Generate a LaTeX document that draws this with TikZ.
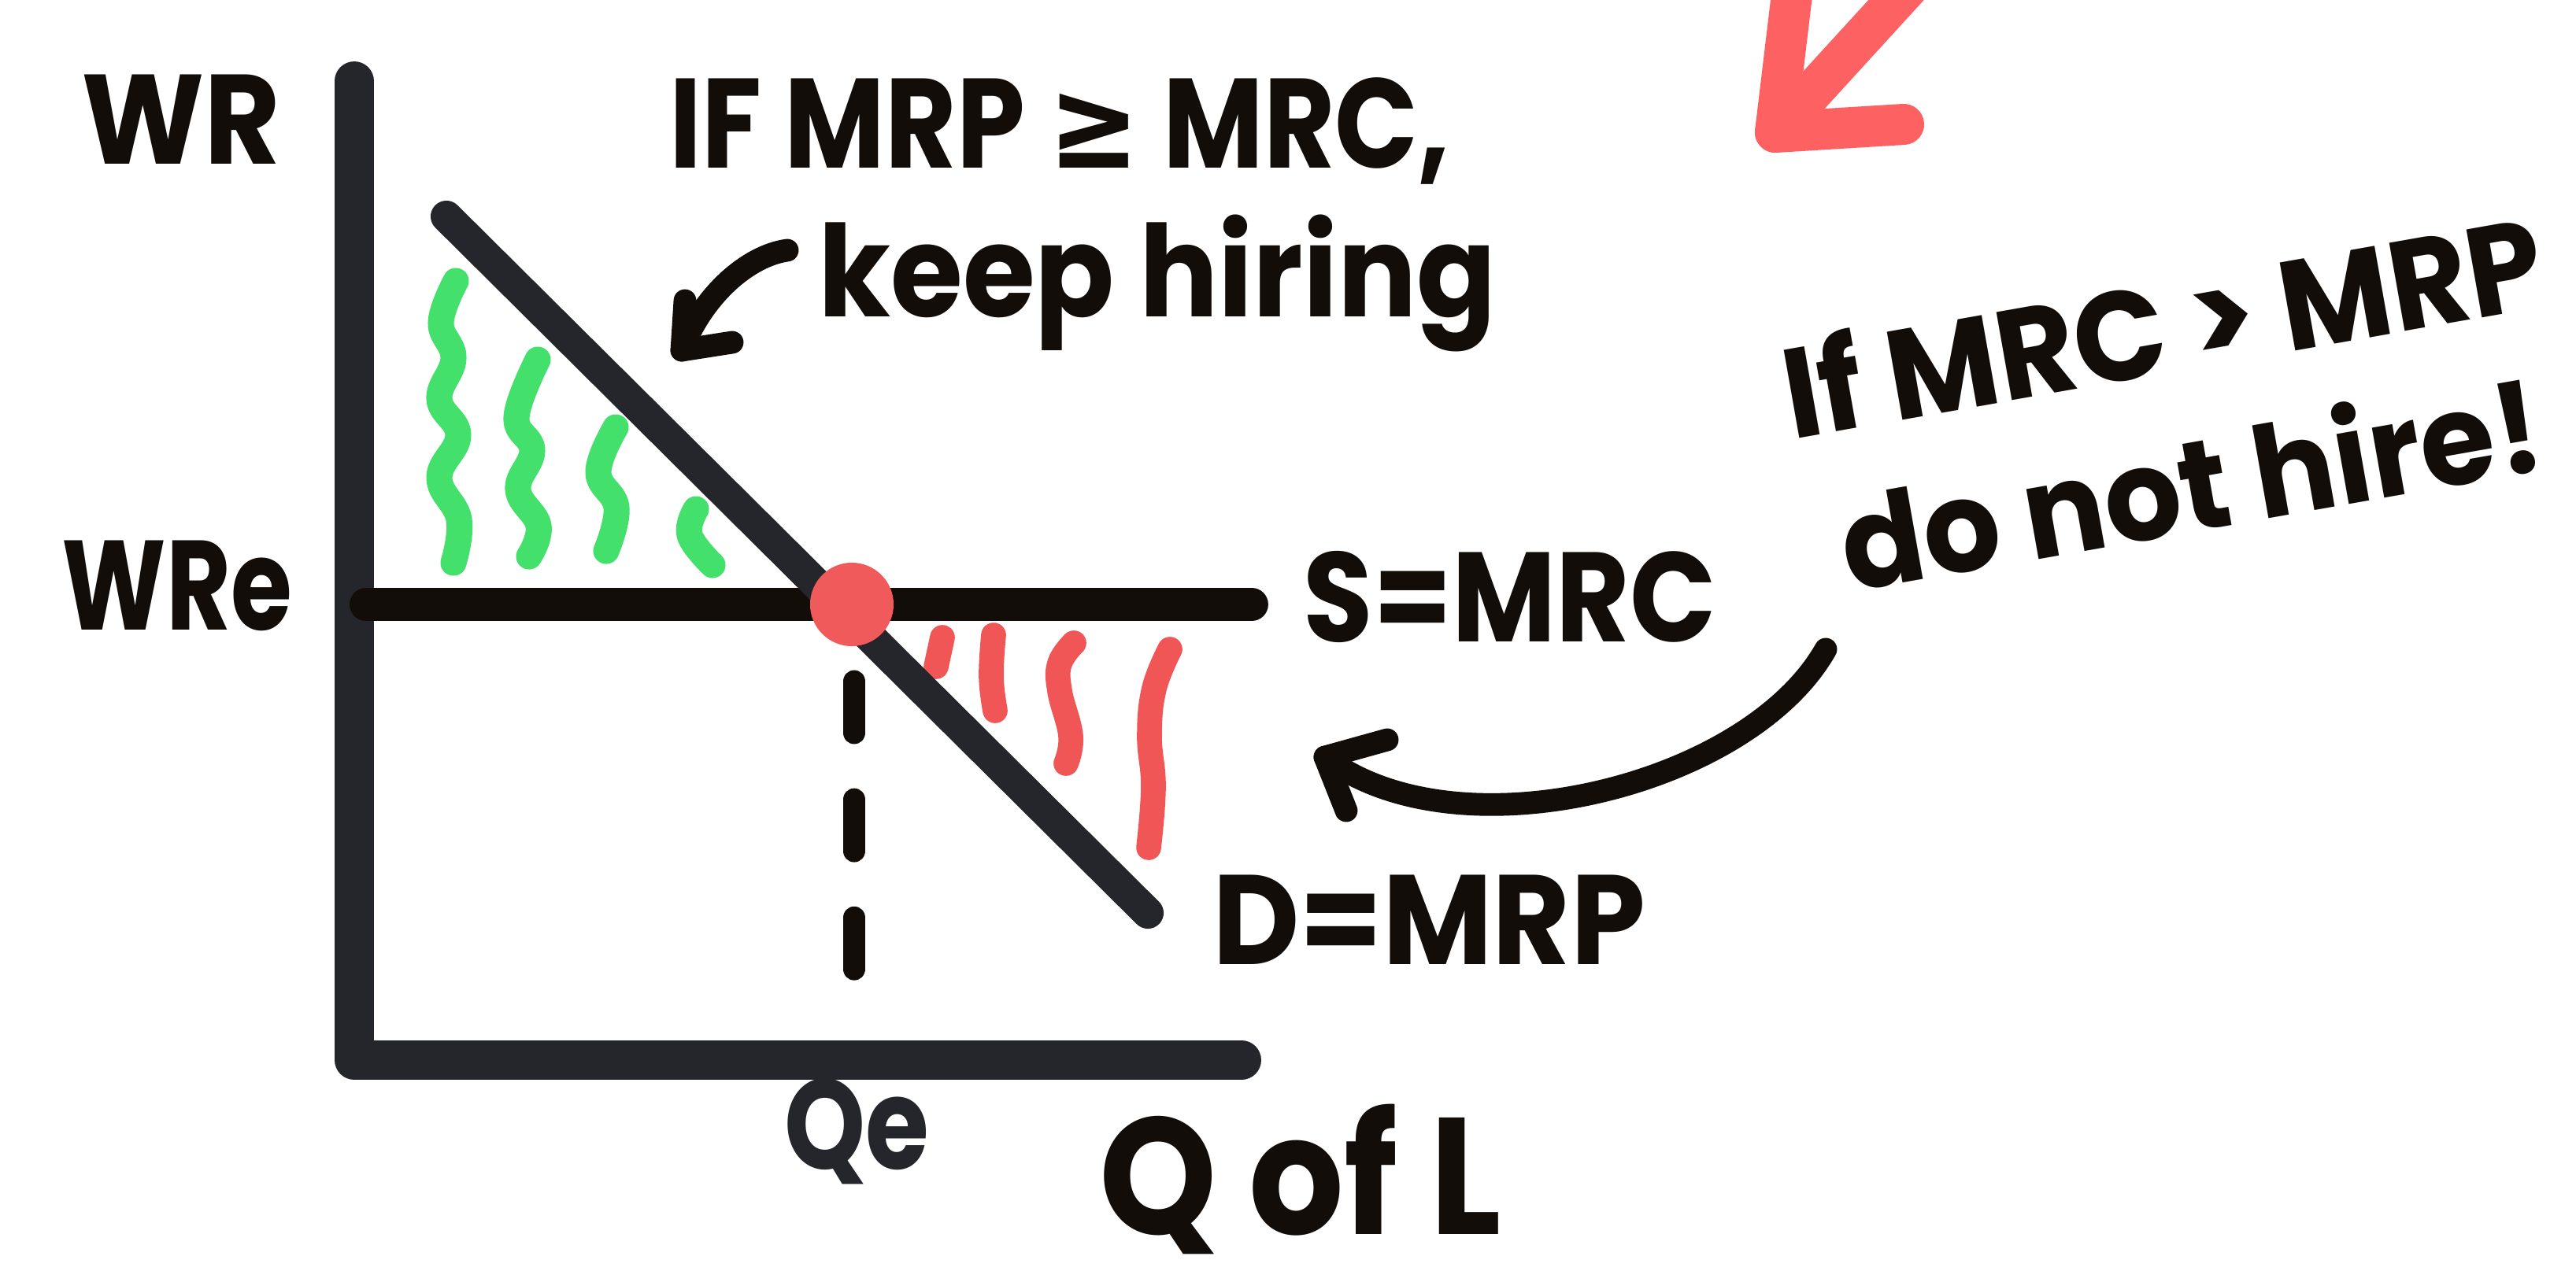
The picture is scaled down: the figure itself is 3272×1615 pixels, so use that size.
\documentclass[tikz,border=0pt]{standalone}
\usepackage{fontspec}
\newfontfamily\hand{Poppins}
\newfontfamily\symb{DejaVu Sans}
\definecolor{ink}{HTML}{120D08}
\definecolor{axisgray}{HTML}{25262C}
\definecolor{dotred}{HTML}{F05A5A}
\definecolor{wavered}{HTML}{F05656}
\definecolor{arrowred}{HTML}{FD6161}
\definecolor{leaf}{HTML}{43E06B}
% narrow handwritten-looking label: \narrow{x-factor}{text}
\newcommand\narrow[2]{\scalebox{#1}[1]{#2}}
\begin{document}
\begin{tikzpicture}[x=0.01cm, y=-0.01cm,
  hand/.style={font=\hand\bfseries\fontsize{46}{48}\selectfont, text=ink, inner sep=0pt, anchor=base},
  axisline/.style={line width=14.2pt, axisgray, line cap=round, line join=round},
  supply/.style={line width=11.9pt, ink, line cap=round},
  demand/.style={line width=11.4pt, axisgray, line cap=round},
  guide/.style={line width=8.2pt, ink, line cap=round, dash pattern=on 0.65cm off 0.85cm},
  greenwave/.style={line width=9.4pt, leaf, line cap=round, line join=round},
  redwave/.style={line width=9pt, wavered, line cap=round, line join=round},
  inkarrow/.style={line width=8.2pt, ink, line cap=round, line join=round},
  redarrow/.style={line width=14.8pt, arrowred, line cap=round, line join=round}]
\clip (0,0) rectangle (3272,1615);
\fill[white] (0,0) rectangle (3272,1615);

% surplus of hiring: green strokes under the demand curve
\draw[greenwave] plot[smooth, tension=0.7] coordinates {(579,357) (560,410) (576,455) (558,507) (582,553) (558,607) (583,660) (576,715)};
\draw[greenwave] plot[smooth, tension=0.7] coordinates {(683,457) (656,530) (676,572) (658,622) (684,668) (672,707)};
\draw[greenwave] plot[smooth, tension=0.7] coordinates {(782,543) (760,600) (783,645) (770,700)};
\draw[greenwave] plot[smooth, tension=0.7] coordinates {(884,647) (876,680) (905,718)};

% loss region: red strokes
\draw[redwave] (1197,810) -- (1189,847);
\draw[redwave] plot[smooth, tension=0.7] coordinates {(1262,807) (1259,860) (1264,903)};
\draw[redwave] plot[smooth, tension=0.7] coordinates {(1364,817) (1346,843) (1346,878) (1360,935) (1354,970)};
\draw[redwave] plot[smooth, tension=0.7] coordinates {(1486,825) (1466,875) (1460,935) (1465,1000) (1459,1077)};

% axes
\coordinate (ytop) at (450,103);
\coordinate (origin) at (450,1347);
\coordinate (xend) at (1577,1347);
\draw[axisline] (ytop) -- (origin) -- (xend);

% supply and demand
\coordinate (sL) at (465,768);
\coordinate (sR) at (1590,768);
\coordinate (dT) at (567,275);
\coordinate (dB) at (1458,1160);
\draw[supply] (sL) -- (sR);
\draw[demand] (dT) -- (dB);

% drop line to Qe
\coordinate (gTop) at (1085,866);
\coordinate (gBot) at (1085,1241);
\draw[guide] (gTop) -- (gBot);

% equilibrium point
\node[circle, fill=dotred, minimum size=1.06cm, inner sep=0pt] (eq) at (1082,768) {};

% labels
\node[hand] (wr) at (230,208) {\narrow{0.92}{WR}};
\node[hand] (wre) at (225,800) {\narrow{0.78}{WRe}};
\node[hand] (smrc) at (1918,815) {\narrow{0.89}{S=MRC}};
\node[hand] (dmrp) at (1815,1225) {\narrow{0.94}{D=MRP}};
\node[hand, text=axisgray] (qe) at (1088,1485) {\narrow{0.81}{Qe}};
\node[hand, font=\hand\bfseries\fontsize{60}{62}\selectfont] (qofl) at (1652,1568) {\narrow{0.9}{Q of L}};
\node[hand] (rule1) at (1346,213) {\narrow{0.86}{IF MRP {\symb\bfseries ≥} MRC,}};
\node[hand] (rule2) at (1470,402) {\narrow{0.92}{keep hiring}};
\node[hand, anchor=center, font=\hand\bfseries\fontsize{46}{58}\selectfont] (rule3) at (2768,534)
  {\rotatebox{10}{\narrow{0.95}{\begin{tabular}{@{}c@{}}If MRC > MRP\\do not hire!\end{tabular}}}};

% pointer to the green area
\coordinate (khStart) at (1000,318);
\coordinate (khTip) at (866,445);
\draw[inkarrow] (khStart) .. controls (950,325) and (893,375) .. (khTip);
\draw[inkarrow] (870,382) -- (khTip) -- (930,435);

% pointer to the red area
\coordinate (nhStart) at (2319,825);
\coordinate (nhTip) at (1683,962);
\draw[inkarrow] (nhStart) .. controls (2220,1000) and (1850,1090) .. (nhTip);
\draw[inkarrow] (1762,940) -- (nhTip) -- (1710,1030);

% red arrow entering from the top edge
\coordinate (raTip) at (2255,168);
\draw[redarrow] (2280,-40) -- (raTip) -- (2418,158);
\draw[redarrow] (raTip) -- (2445,-40);
\end{tikzpicture}
\end{document}
